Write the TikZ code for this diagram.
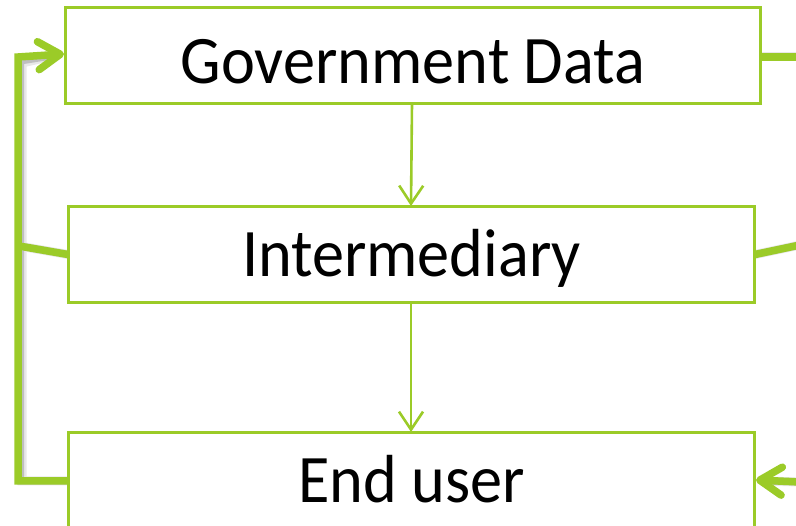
\documentclass[tikz,border=0pt]{standalone}
\usepackage{fontspec}
\setmainfont{Carlito}[FakeStretch=0.945]
\usetikzlibrary{arrows.meta}
\definecolor{lg}{RGB}{155,203,40}
\tikzset{
  box/.style={draw=lg, line width=2pt, fill=white, inner sep=0pt,
    font=\fontsize{68}{72}\selectfont, text depth=0pt},
  thin/.style={draw=lg, line width=2.6pt, -{Straight Barb[length=18pt,width=24pt,line width=2.6pt]}},
  thick/.style={draw=lg, line width=7.5pt},
  thickarr/.style={thick, -{Straight Barb[length=22pt,width=28pt,line width=7.5pt,round]}},
  shad/.style={draw=black!25, line width=7pt},
  shadsoft/.style={draw=black!9, line width=9pt}
}
\begin{document}
\begin{tikzpicture}[x=1pt,y=-1pt]
\useasboundingbox (0,0) rectangle (796,526);
\node[box, minimum width=694pt, minimum height=95pt, text height=57pt] (gov) at (413,55.5) {Government Data};
\node[box, minimum width=685pt, minimum height=95pt, text height=45pt] (im) at (411.5,254.5) {Intermediary};
\node[box, minimum width=685pt, minimum height=96pt, text height=44pt] (eu) at (411.5,481) {End user};
\coordinate (jl) at (19,246);
\coordinate (r1) at (800,57);
\coordinate (r2) at (800,245);
\coordinate (r3) at (800,482);
% shadows
\foreach \s/\dx/\dy in {shadsoft/4/6,shad/2.5/4}{
\begin{scope}[shift={(\dx,\dy)}]
\draw[\s] (eu.west) -| (18,57) -- ([xshift=-10]gov.west);
\draw[\s] (jl) -- (im.west);
\draw[\s] (gov.east |- r1) -- (r1);
\draw[\s] (im.east) -- (r2);
\draw[\s] (r3) -- ([xshift=10]eu.east);
\end{scope}}
% connectors
\draw[thin] (gov.south -| 412,0) -- (im.north -| 411,0);
\draw[thin] (im.south -| 411,0) -- (eu.north -| 411,0);
\draw[thickarr] (eu.west) -| (18,57) -- ([xshift=-1,yshift=1.5]gov.west);
\draw[thick] (jl) -- (im.west);
\draw[thick] (gov.east |- r1) -- (r1);
\draw[thick] (im.east) -- (r2);
\draw[thickarr] (r3) -- ([xshift=1,yshift=1]eu.east);
% box borders on top
\draw[lg, line width=2pt] (gov.south west) rectangle (gov.north east);
\draw[lg, line width=2pt] (im.south west) rectangle (im.north east);
\draw[lg, line width=2pt] (eu.south west) rectangle (eu.north east);
\end{tikzpicture}
\end{document}
